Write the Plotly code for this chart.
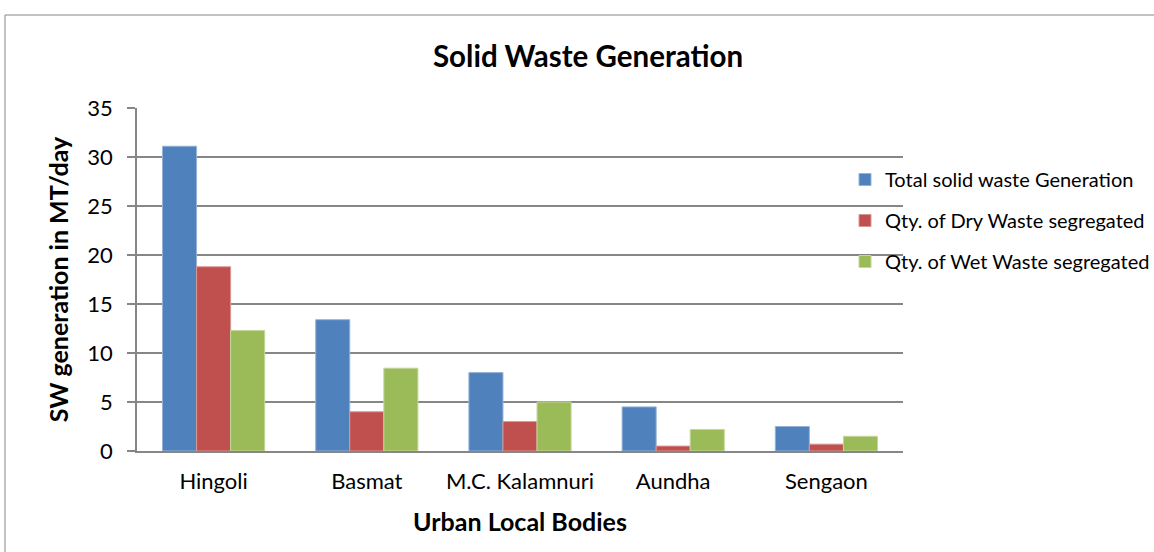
import plotly.graph_objects as go

categories = ["Hingoli", "Basmat", "M.C. Kalamnuri", "Aundha", "Sengaon"]
total_sw = [31.1, 13.4, 8.0, 4.5, 2.5]
dry_sw = [18.8, 4.0, 3.0, 0.5, 0.7]
wet_sw = [12.3, 8.45, 5.0, 2.2, 1.5]
series_names = ["Total solid waste Generation", "Qty. of Dry Waste segregated", "Qty. of Wet Waste segregated"]
colors = ["#4F81BD", "#C0504D", "#9BBB59"]
line_colors = ["#95B3D7", "#D99694", "#C3D69B"]

FONT = "Lato"
W, H = 1154, 552
L, R, T, B = 137, 903, 108, 451  # plot area pixel box
PW, PH = R - L, B - T

fig = go.Figure()
for i, (name, vals) in enumerate(zip(series_names, [total_sw, dry_sw, wet_sw])):
    fig.add_trace(go.Bar(
        x=categories, y=vals, name=name, legendgroup=f"g{i}",
        marker=dict(color=colors[i], line=dict(color=line_colors[i], width=1)),
    ))

fig.update_layout(
    width=W, height=H,
    paper_bgcolor="white", plot_bgcolor="white",
    margin=dict(l=L, r=W - R, t=T, b=H - B, autoexpand=False),
    barmode="group", bargap=0.333, bargroupgap=0,
    font=dict(family=FONT, color="black"),
    title=dict(text="<b>Solid Waste Generation</b>", x=588 / W, xanchor="center",
               y=1 - 57 / H, yanchor="middle", font=dict(size=29.5, family=FONT)),
    legend=dict(x=(845 - L) / PW, xanchor="left", y=(B - 160) / PH, yanchor="top",
                font=dict(size=20, family=FONT), tracegroupgap=12, bgcolor="rgba(0,0,0,0)",
                itemwidth=30),
    showlegend=True,
)
fig.update_yaxes(
    range=[0, 35], dtick=5, showgrid=True, gridcolor="#868686", gridwidth=1.5,
    showline=True, linecolor="#868686", linewidth=1.5,
    ticks="outside", ticklen=8, tickcolor="#868686", tickwidth=1.5,
    tickfont=dict(size=22, family=FONT), ticklabelstandoff=10,
    title=dict(text="<b>SW generation in MT/day</b>", font=dict(size=25, family=FONT), standoff=12),
    zeroline=False,
)
fig.update_xaxes(
    showline=True, linecolor="#868686", linewidth=1.5,
    tickfont=dict(size=22, family=FONT), ticklabelstandoff=10,
    title=dict(text="<b>Urban Local Bodies</b>", font=dict(size=25, family=FONT), standoff=20),
)
# chart area border
fig.add_shape(type="rect", xref="paper", yref="paper",
              x0=(5 - L) / PW, x1=(1200 - L) / PW,
              y0=(B - 600) / PH, y1=(B - 15) / PH,
              line=dict(color="#868686", width=1), layer="below")

fig.write_html("out.html", config={"displayModeBar": False},
               post_script="document.body.style.margin='0px';")
